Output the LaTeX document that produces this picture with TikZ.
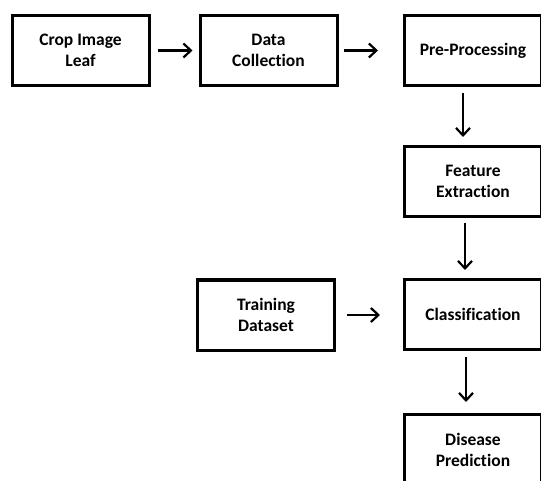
\documentclass[tikz,border=0pt]{standalone}
\usepackage{fontspec}
\setmainfont{Carlito}[Ligatures=NoCommon]
\usetikzlibrary{arrows.meta}
\begin{document}
\begin{tikzpicture}[x=1pt,y=-1pt,
  box/.style={draw=black,line width=3pt,rectangle,minimum width=137pt,minimum height=70pt,
    align=center,font=\fontsize{17.5}{21}\selectfont\bfseries,inner sep=0pt},
  arr/.style={line width=2.2pt,-{Straight Barb[length=7.5pt,width=14pt,line width=2.2pt]}}]
\useasboundingbox (0,0) rectangle (541,481);
\begin{scope}
\clip (0,0) rectangle (541,481);
\node[box] (crop) at (80.5,50.5) {Crop Image\\Leaf};
\node[box] (data) at (268.5,50.5) {Data\\Collection};
\node[box] (pre) at (473,50.5) {Pre-Processing};
\node[box] (feat) at (473,181.5) {Feature\\Extraction};
\node[box] (train) at (266,315) {Training\\Dataset};
\node[box] (class) at (473,314.5) {Classification};
\node[box] (dis) at (473,449.5) {Disease\\Prediction};
\draw[arr,shorten <=7pt,shorten >=6pt] (crop.east) -- (data.west);
\draw[arr,shorten <=5pt,shorten >=25pt] (data.east) -- (pre.west);
\draw[arr,shorten <=6pt,shorten >=8pt] ([xshift=-10pt]pre.south) -- ([xshift=-10pt]feat.north);
\draw[arr,shorten <=5pt,shorten >=8pt] ([xshift=-8pt]feat.south) -- ([xshift=-8pt]class.north);
\draw[arr,shorten <=11pt,shorten >=23pt] (train.east) -- (class.west |- train.east);
\draw[arr,shorten <=6pt,shorten >=11pt] ([xshift=-7pt]class.south) -- ([xshift=-7pt]dis.north);
\end{scope}
\end{tikzpicture}
\end{document}
